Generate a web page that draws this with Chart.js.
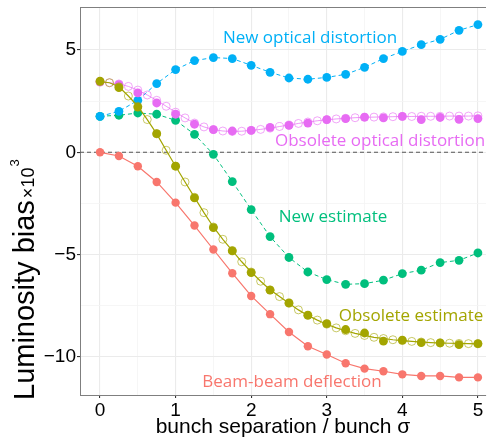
<!DOCTYPE html>
<html>
<head>
<meta charset="utf-8">
<script src="https://cdn.jsdelivr.net/npm/chart.js@4.4.1/dist/chart.umd.min.js"></script>
<style>
  html, body { margin: 0; padding: 0; background: #ffffff; }
  #chart { display: block; }
</style>
</head>
<body>
<canvas id="chart" width="491" height="440"></canvas>
<script>
// bunch separation (units of bunch sigma), coarse scan
const separation = [0, 0.25, 0.5, 0.75, 1, 1.25, 1.5, 1.75, 2, 2.25, 2.5, 2.75, 3, 3.25, 3.5, 3.75, 4, 4.25, 4.5, 4.75, 5];
// fine scan used by the obsolete (open circle) curves
const separationFine = [0, 0.125, 0.25, 0.375, 0.5, 0.625, 0.75, 0.875, 1, 1.125, 1.25, 1.375, 1.5, 1.625, 1.75, 1.875, 2, 2.125, 2.25, 2.375, 2.5, 2.625, 2.75, 2.875, 3, 3.125, 3.25, 3.375, 3.5, 3.625, 3.75, 3.875, 4, 4.125, 4.25, 4.375, 4.5, 4.625, 4.75, 4.875, 5];

// luminosity bias x 10^3
const newOptical = [1.76, 2.0, 2.54, 3.36, 4.04, 4.48, 4.63, 4.58, 4.25, 3.91, 3.63, 3.57, 3.66, 3.81, 4.15, 4.58, 4.93, 5.26, 5.52, 5.96, 6.24];
const obsoleteOptical = [3.45, 3.31, 2.9, 2.41, 1.86, 1.37, 1.11, 1.04, 1.07, 1.22, 1.32, 1.43, 1.6, 1.65, 1.72, 1.68, 1.76, 1.6, 1.7, 1.61, 1.65];
const obsoleteOpticalFine = [3.42, 3.4, 3.34, 3.22, 3.04, 2.8, 2.54, 2.25, 1.96, 1.68, 1.43, 1.24, 1.11, 1.04, 1.02, 1.03, 1.07, 1.12, 1.18, 1.26, 1.33, 1.41, 1.48, 1.54, 1.59, 1.63, 1.66, 1.69, 1.71, 1.72, 1.73, 1.74, 1.75, 1.75, 1.76, 1.76, 1.76, 1.77, 1.77, 1.77, 1.78];
const newEstimate = [1.76, 1.81, 1.92, 1.86, 1.56, 0.88, -0.1, -1.43, -2.8, -4.12, -5.14, -5.85, -6.22, -6.45, -6.42, -6.25, -5.93, -5.76, -5.39, -5.28, -4.92];
const obsoleteEstimate = [3.48, 3.16, 2.21, 0.91, -0.68, -2.23, -3.68, -4.82, -5.88, -6.74, -7.36, -7.96, -8.37, -8.66, -8.83, -9.23, -9.18, -9.3, -9.31, -9.4, -9.35];
const obsoleteEstimateFine = [3.45, 3.4, 3.2, 2.75, 2.25, 1.6, 0.9, 0.1, -0.68, -1.45, -2.2, -2.95, -3.65, -4.25, -4.8, -5.35, -5.85, -6.3, -6.72, -7.05, -7.38, -7.7, -7.97, -8.2, -8.4, -8.58, -8.72, -8.85, -8.95, -9.04, -9.1, -9.16, -9.2, -9.24, -9.27, -9.3, -9.32, -9.33, -9.34, -9.35, -9.36];
const beamBeam = [0, -0.18, -0.68, -1.45, -2.46, -3.58, -4.75, -5.91, -7.02, -7.91, -8.78, -9.48, -9.88, -10.31, -10.57, -10.7, -10.85, -10.93, -10.93, -11.0, -11.0];

// axis ticks (major + minor grid)
const xTicks = [0, 0.5, 1, 1.5, 2, 2.5, 3, 3.5, 4, 4.5, 5];
const yTicks = [-10, -7.5, -5, -2.5, 0, 2.5, 5];

const COLORS = {
    beam: '#F8766D',
    olive: '#A3A500',
    green: '#00BF7D',
    blue: '#00B0F6',
    magenta: '#E76BF3'
};

const toPoints = (xs, ys) => xs.map((x, i) => ({ x: x, y: ys[i] }));

const isMajorX = v => Math.abs(v - Math.round(v)) < 1e-6;
const isMajorY = v => Math.abs(v % 5) < 1e-6;

// curve labels drawn inside the panel
const curveLabels = [
    { text: 'New optical distortion', color: COLORS.blue, x: 310, y: 43 },
    { text: 'Obsolete optical distortion', color: COLORS.magenta, x: 380, y: 145.5 },
    { text: 'New estimate', color: COLORS.green, x: 333, y: 221.5 },
    { text: 'Obsolete estimate', color: COLORS.olive, x: 411, y: 321 },
    { text: 'Beam-beam deflection', color: COLORS.beam, x: 292, y: 387 }
];

const panelPlugin = {
    id: 'panel',
    beforeDatasetsDraw(chart) {
        const { ctx, chartArea, scales } = chart;
        // dashed zero line
        const y0 = scales.y.getPixelForValue(0);
        ctx.save();
        ctx.strokeStyle = '#555555';
        ctx.lineWidth = 1.1;
        ctx.setLineDash([4, 3]);
        ctx.beginPath();
        ctx.moveTo(chartArea.left, y0);
        ctx.lineTo(chartArea.right, y0);
        ctx.stroke();
        ctx.restore();
    },
    afterDraw(chart) {
        const { ctx, chartArea } = chart;
        ctx.save();
        // top border of the panel
        ctx.strokeStyle = '#7f7f7f';
        ctx.lineWidth = 1;
        ctx.beginPath();
        ctx.moveTo(chartArea.left, chartArea.top + 0.5);
        ctx.lineTo(chartArea.right, chartArea.top + 0.5);
        ctx.stroke();

        // curve labels
        ctx.font = '17px "Open Sans"';
        ctx.textAlign = 'center';
        ctx.textBaseline = 'alphabetic';
        curveLabels.forEach(l => {
            ctx.fillStyle = l.color;
            ctx.fillText(l.text, l.x, l.y);
        });

        // y axis title with superscript
        ctx.translate(33.5, 400);
        ctx.rotate(-Math.PI / 2);
        ctx.textAlign = 'left';
        ctx.fillStyle = '#000000';
        ctx.font = '29px "Liberation Sans"';
        const main = 'Luminosity bias';
        ctx.fillText(main, 0, 0);
        let off = ctx.measureText(main).width + 2;
        ctx.font = '18px "Liberation Sans"';
        ctx.fillText('\u00d710', off, 0);
        off += ctx.measureText('\u00d710').width + 1;
        ctx.font = '13px "Liberation Sans"';
        ctx.fillText('3', off, -15);
        ctx.restore();
    }
};

const ctx = document.getElementById('chart');

new Chart(ctx, {
    type: 'scatter',
    data: {
        datasets: [
            {
                label: 'Obsolete estimate',
                data: toPoints(separation, obsoleteEstimate),
                showLine: false,
                pointRadius: 4.4,
                pointBackgroundColor: COLORS.olive,
                pointBorderColor: COLORS.olive,
                pointBorderWidth: 0
            },
            {
                label: 'Obsolete estimate (fine)',
                data: toPoints(separationFine, obsoleteEstimateFine),
                showLine: true,
                borderColor: COLORS.olive,
                borderWidth: 1.2,
                pointRadius: 4,
                pointBackgroundColor: 'rgba(0,0,0,0)',
                pointBorderColor: 'rgba(163,165,0,0.6)',
                pointBorderWidth: 1
            },
            {
                label: 'Obsolete optical distortion',
                data: toPoints(separation, obsoleteOptical),
                showLine: false,
                pointRadius: 4.4,
                pointBackgroundColor: COLORS.magenta,
                pointBorderColor: COLORS.magenta,
                pointBorderWidth: 0
            },
            {
                label: 'Obsolete optical distortion (fine)',
                data: toPoints(separationFine, obsoleteOpticalFine),
                showLine: true,
                borderColor: 'rgba(231,107,243,0.7)',
                borderWidth: 1,
                pointRadius: 4,
                pointBackgroundColor: 'rgba(0,0,0,0)',
                pointBorderColor: 'rgba(231,107,243,0.6)',
                pointBorderWidth: 1
            },
            {
                label: 'New optical distortion',
                data: toPoints(separation, newOptical),
                showLine: true,
                borderColor: COLORS.blue,
                borderWidth: 1,
                borderDash: [4, 3],
                pointRadius: 4.4,
                pointBackgroundColor: COLORS.blue,
                pointBorderWidth: 0
            },
            {
                label: 'New estimate',
                data: toPoints(separation, newEstimate),
                showLine: true,
                borderColor: COLORS.green,
                borderWidth: 1,
                borderDash: [4, 3],
                pointRadius: 4.4,
                pointBackgroundColor: COLORS.green,
                pointBorderWidth: 0
            },
            {
                label: 'Beam-beam deflection',
                data: toPoints(separation, beamBeam),
                showLine: true,
                borderColor: COLORS.beam,
                borderWidth: 1.2,
                pointRadius: 4.2,
                pointBackgroundColor: COLORS.beam,
                pointBorderWidth: 0
            }
        ]
    },
    options: {
        responsive: false,
        animation: false,
        devicePixelRatio: 1,
        layout: {
            padding: { left: 0, right: 0, top: 7, bottom: 0 }
        },
        plugins: {
            legend: { display: false },
            tooltip: { enabled: false }
        },
        scales: {
            x: {
                type: 'linear',
                min: -0.265,
                max: 5.107,
                afterBuildTicks: scale => {
                    scale.ticks = xTicks.map(v => ({ value: v }));
                },
                afterFit: scale => {
                    scale.height = 45;
                    scale.paddingLeft = 0;
                    scale.paddingRight = 0;
                },
                ticks: {
                    autoSkip: false,
                    maxRotation: 0,
                    padding: 1,
                    color: '#000000',
                    font: { family: 'Liberation Sans', size: 19 },
                    callback: v => (isMajorX(v) ? String(v) : '')
                },
                grid: {
                    drawTicks: true,
                    tickLength: 3,
                    color: c => (isMajorX(c.tick.value) ? '#ebebeb' : '#f4f4f4'),
                    lineWidth: c => (isMajorX(c.tick.value) ? 1.1 : 0.8),
                    tickColor: c => (isMajorX(c.tick.value) ? '#333333' : 'rgba(0,0,0,0)')
                },
                border: { display: true, color: '#7f7f7f', width: 1 },
                title: {
                    display: true,
                    text: 'bunch separation / bunch \u03c3',
                    color: '#000000',
                    font: { family: 'Liberation Sans', size: 21 },
                    padding: { top: 0, bottom: 0 }
                }
            },
            y: {
                type: 'linear',
                min: -11.86,
                max: 7.1,
                afterBuildTicks: scale => {
                    scale.ticks = yTicks.map(v => ({ value: v }));
                },
                afterFit: scale => {
                    scale.width = 80;
                    scale.paddingTop = 0;
                    scale.paddingBottom = 0;
                },
                ticks: {
                    autoSkip: false,
                    padding: 1,
                    color: '#000000',
                    font: { family: 'Liberation Sans', size: 19 },
                    callback: v => (isMajorY(v) ? String(v).replace('-', '\u2212') : '')
                },
                grid: {
                    drawTicks: true,
                    tickLength: 3,
                    color: c => (isMajorY(c.tick.value) ? '#ebebeb' : '#f4f4f4'),
                    lineWidth: c => (isMajorY(c.tick.value) ? 1.1 : 0.8),
                    tickColor: c => (isMajorY(c.tick.value) ? '#333333' : 'rgba(0,0,0,0)')
                },
                border: { display: true, color: '#7f7f7f', width: 1 }
            }
        }
    },
    plugins: [panelPlugin]
});
</script>
</body>
</html>
